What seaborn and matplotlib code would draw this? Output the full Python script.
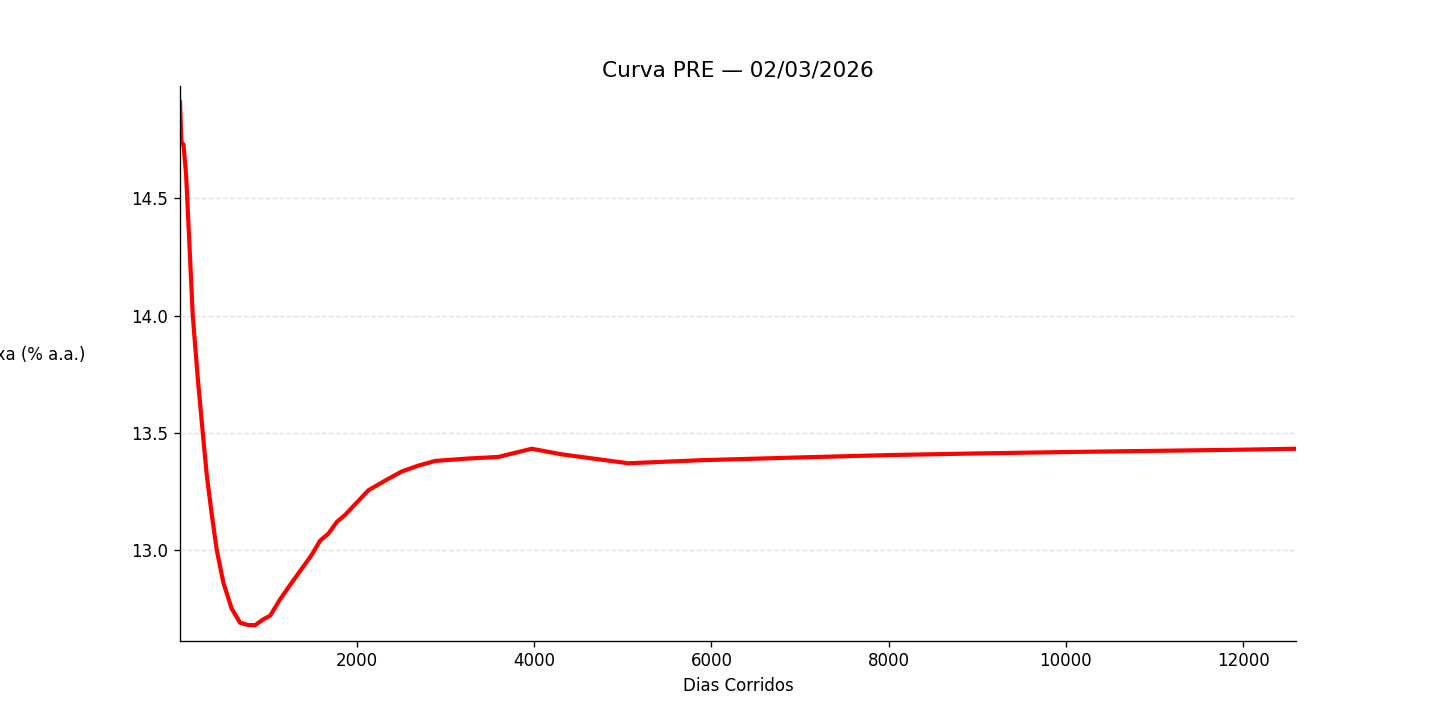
import pandas as pd
import matplotlib
matplotlib.use("Agg")
import matplotlib.pyplot as plt
import seaborn as sb

# Curva PRE (dias corridos x taxa % a.a.)
dias = [1, 17, 40, 70, 145, 200, 258, 303, 360, 416, 491, 585, 679, 773, 849,
        943, 1018, 1131, 1260, 1394, 1488, 1582, 1676, 1771, 1865, 2015, 2128,
        2335, 2504, 2692, 2880, 3238, 3595, 3972, 4310, 4667, 5062, 5871, 7000,
        8000, 9000, 10000, 11000, 12000, 12598]
taxas = [14.91, 14.74, 14.73, 14.60, 14.00, 13.74, 13.50, 13.32, 13.15, 13.00,
         12.86, 12.75, 12.69, 12.68, 12.68, 12.705, 12.72, 12.79, 12.86, 12.93,
         12.98, 13.04, 13.07, 13.12, 13.15, 13.21, 13.255, 13.30, 13.335, 13.36,
         13.38, 13.39, 13.397, 13.432, 13.408, 13.39, 13.37, 13.383, 13.395,
         13.405, 13.412, 13.418, 13.423, 13.428, 13.432]

df_pre = pd.DataFrame({"dias": dias, "taxa": taxas})

fig, ax = plt.subplots(figsize=(12, 6), dpi=120)
sb.lineplot(data=df_pre, x="dias", y="taxa", color="red", linewidth=2.5, ax=ax)

ax.margins(x=0, y=0.03)
ax.grid(axis="y", linestyle="--", color="lightgray", alpha=0.7)
ax.set_axisbelow(True)
sb.despine(ax=ax)

ax.set_title("Curva PRE \u2014 02/03/2026", fontsize=13)
ax.set_xlabel("Dias Corridos")
ax.set_ylabel("Taxa (% a.a.)", rotation=0, labelpad=60)

fig.savefig("out.png", dpi=120)
